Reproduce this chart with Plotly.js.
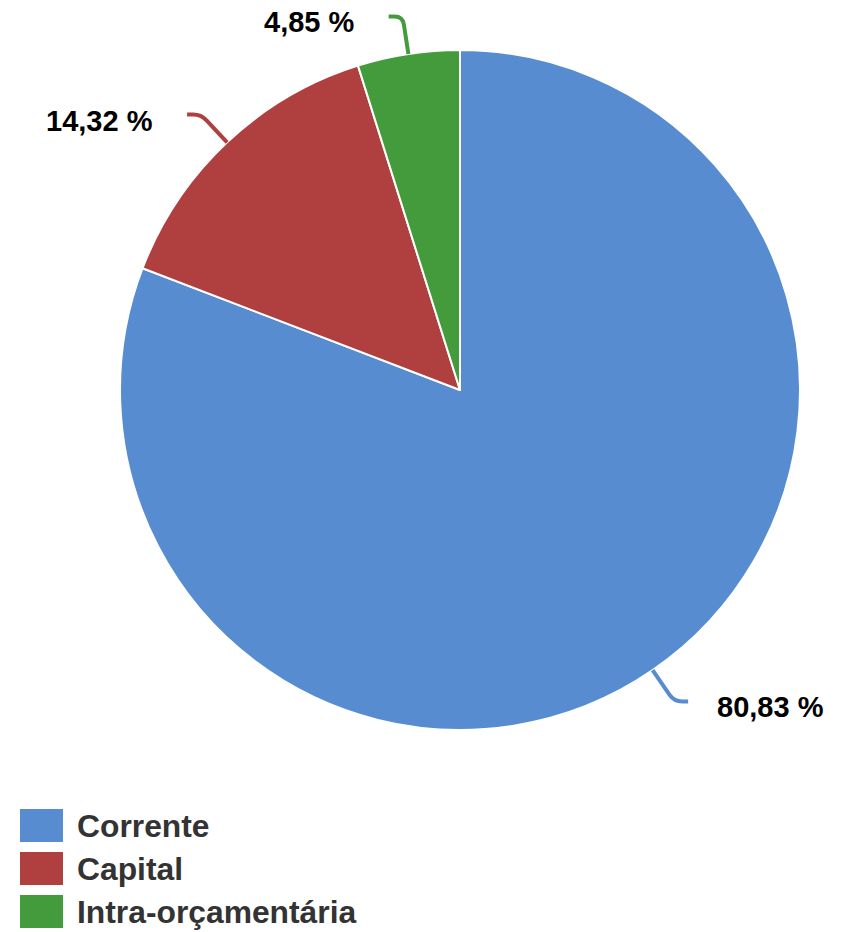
<!DOCTYPE html>
<html>
<head>
<meta charset="utf-8">
<script src="https://cdn.plot.ly/plotly-3.0.1.min.js"></script>
<style>html,body{margin:0;padding:0;background:#fff;}#chart{width:843px;height:932px;}</style>
</head>
<body>
<div id="chart"></div>
<script>
const categories = ['Corrente', 'Capital', 'Intra-orçamentária'];
const values = [80.83, 14.32, 4.85];
const valueLabels = ['80,83 %', '14,32 %', '4,85 %'];
const colors = ['#578dd0', '#b03f40', '#439b3b'];

const W = 843, H = 932;
const cx = 460, cy = 390, R = 340;
const font = 'Liberation Sans, Arial, sans-serif';

function px(x) { return x / W; }
function py(y) { return 1 - y / H; }
function P(p) { return px(p[0]) + ',' + py(p[1]); }

const total = values.reduce((a, b) => a + b, 0);
const shapes = [];
const annotations = [];
let cum = 0;
values.forEach((v, i) => {
  const mid = (cum + v / 2) / total * 2 * Math.PI;
  cum += v;
  const s = Math.sin(mid), c = Math.cos(mid);
  const side = s >= 0 ? 1 : -1;
  const d = 38, rc = 8, hz = 14;
  const A = [cx + R * s, cy - R * c];
  const B = [cx + (R + d) * s, cy - (R + d) * c];
  const B1 = [cx + (R + d - rc) * s, cy - (R + d - rc) * c];
  const B2 = [B[0] + side * rc, B[1]];
  const C = [B[0] + side * hz, B[1]];
  shapes.push({
    type: 'path', xref: 'paper', yref: 'paper',
    path: 'M ' + P(A) + ' L ' + P(B1) + ' Q ' + P(B) + ' ' + P(B2) + ' L ' + P(C),
    line: {color: colors[i], width: 4}
  });
  annotations.push({
    xref: 'paper', yref: 'paper', showarrow: false,
    x: px(C[0] + side * (side > 0 ? 27 : 32)), y: py(C[1] + 6),
    xanchor: side > 0 ? 'left' : 'right', yanchor: 'middle',
    text: valueLabels[i],
    font: {family: font, size: 29, color: '#000000', weight: 'bold'}
  });
});

// legend
categories.forEach((cat, i) => {
  const top = 809 + i * 43;
  shapes.push({
    type: 'rect', xref: 'paper', yref: 'paper',
    x0: px(20), x1: px(63), y0: py(top), y1: py(top + 33),
    fillcolor: colors[i], line: {width: 0}
  });
  annotations.push({
    xref: 'paper', yref: 'paper', showarrow: false,
    x: px(75), y: py(top + 17), xanchor: 'left', yanchor: 'middle',
    text: cat,
    font: {family: font, size: 31.8, color: '#333333', weight: 'bold'}
  });
});

const data = [{
  type: 'pie',
  labels: categories,
  values: values,
  sort: false,
  direction: 'clockwise',
  rotation: 0,
  textinfo: 'none',
  hoverinfo: 'label+percent',
  marker: {colors: colors, line: {color: '#ffffff', width: 2}},
  domain: {x: [px(cx - R), px(cx + R)], y: [py(cy + R), py(cy - R)]},
  showlegend: false
}];

const layout = {
  width: W, height: H,
  margin: {l: 0, r: 0, t: 0, b: 0},
  paper_bgcolor: '#ffffff',
  showlegend: false,
  shapes: shapes,
  annotations: annotations
};

Plotly.newPlot('chart', data, layout, {displayModeBar: false, staticPlot: true});
</script>
</body>
</html>
